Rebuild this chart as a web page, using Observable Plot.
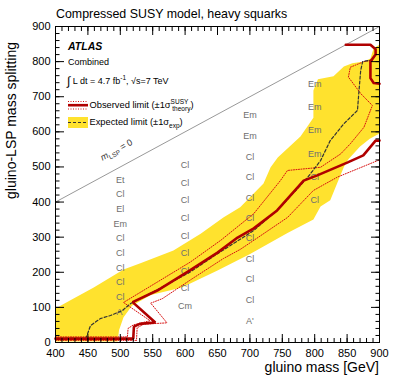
<!DOCTYPE html>
<html><head><meta charset="utf-8">
<script src="https://cdn.jsdelivr.net/npm/d3@7"></script>
<script src="https://cdn.jsdelivr.net/npm/@observablehq/plot@0.6"></script>
<style>
body{margin:0;background:#fff}
</style>
</head><body><div id="chart"></div>
<script>
// ---- axis ticks ----
const xMajor = [400,450,500,550,600,650,700,750,800,850,900];
const yMajor = [0,100,200,300,400,500,600,700,800,900];
const xMinor = d3.range(400, 901, 10);
const yMinor = d3.range(0, 901, 20);

// ---- expected ±1σ band (polygon, [gluino mass, splitting]) ----
const bandPolygon = [
  [400,3],[400,97],[423,120],[459,157],[505,208],[531,226],[582,262],[624,310],[659,356],
  [685,385],[721,453],[732,499],[743,527],[778,587],[798,640],[798,718],[805,750],[829,758],
  [845,786],[858,795],[876,800],[886,809],[891,838],[900,848],
  [900,595],[885,580],[870,558],[852,522],[845,500],[835,455],[824,405],[809,387],[798,350],
  [758,312],[701,253],[650,205],[595,157],[547,135],[518,105],[505,72],[498,35],[496,3]
];

// ---- expected limit (dashed) ----
const expected = [
  [400,12],[447,12],[454,48],[469,68],[485,77],[503,91],[516,111],[557,150],[608,201],
  [650,253],[685,294],[706,319],[747,385],[789,470],[809,518],[824,575],[845,623],
  [866,661],[868,709],[871,775],[874,800],[889,805]
];

// ---- observed limit (thick) ----
const observed = [
  [400,11],[520,11],[521,45],[530,53],[554,57],[519,115],[557,148],[608,206],[650,256],
  [681,299],[706,325],[742,376],[783,461],[804,476],[851,513],[875,533],[894,575],[900,575]
];
const observedIsland = [
  [848,848],[886,848],[894,835],[894,820],[886,800],[886,753],[891,739],[900,737]
];

// ---- observed ±1σ theory (dotted) ----
const obsMinus = [
  [400,16],[511,16],[512,40],[520,50],[546,62],[505,114],[557,172],[608,229],[655,291],
  [706,367],[747,461],[758,490],[809,499],[840,537],[855,566],[876,613],[889,675],
  [871,709],[852,756],[855,784],[876,800],[889,804]
];
const obsPlus = [
  [400,6],[525,6],[526,42],[536,52],[572,56],[547,112],[565,125],[608,178],[659,239],
  [685,265],[706,291],[758,356],[798,433],[835,471],[897,518],[900,520]
];

// ---- kinematic limit m_LSP = 0 ----
const diagonal = [[400,400],[900,900]];

// ---- best signal region labels ----
const sr500Y = [83,125,167,208,250,292,333,375,417,458];
const sr500Text = ["A'","Cl","Cl","Cl","Cl","Cl","Em","El","Cl","Et"];
const sr600Y = [100,150,200,250,300,350,400,450,500];
const sr600Text = ["Cm","Cl","Cl","Cl","Cl","Cl","Cl","Cl","Cl"];
const sr700Y = [58,117,175,233,292,350,408,467,525,583,642];
const sr700Text = ["A'","Cl","Cl","Cl","Cl","Cl","Cl","Cl","Cl","Em","Em"];
const sr800Y = [400,467,533,600,667,733];
const sr800Text = ["Cl","Cl","Em","Em","Em","Em"];

// annotation anchor for the m_LSP = 0 label
const mlspLabelAt = [497, 540];

const srLabels = [];
[[500,sr500Y,sr500Text],[600,sr600Y,sr600Text],[700,sr700Y,sr700Text],[800,sr800Y,sr800Text]]
  .forEach(([m, ys, ts]) => ys.forEach((y, i) => srLabels.push({m, y, t: ts[i]})));

const YELLOW = "#ffe22e";
const RED = "#b00000";
const RED_DOT = "#d81010";

const P = d => d[0], Q = d => d[1];

const svg = Plot.plot({
  width: 399, height: 379,
  marginLeft: 55, marginRight: 20, marginTop: 26, marginBottom: 37,
  style: {fontFamily: "'Liberation Sans', Arial, sans-serif", background: "white", color: "black"},
  x: {domain: [400, 900]},
  y: {domain: [0, 900]},
  marks: [
    Plot.line(bandPolygon, {x: P, y: Q, fill: YELLOW, stroke: "none"}),
    Plot.line(diagonal, {x: P, y: Q, stroke: "#999", strokeWidth: 1}),
    Plot.text(srLabels, {x: "m", y: "y", text: "t", fill: "#6e6e6e", fontSize: 9, dy: -1.5}),
    Plot.line(obsMinus, {x: P, y: Q, stroke: RED_DOT, strokeWidth: 1, strokeDasharray: "1,1.5"}),
    Plot.line(obsPlus, {x: P, y: Q, stroke: RED_DOT, strokeWidth: 1, strokeDasharray: "1,1.5"}),
    Plot.line(expected, {x: P, y: Q, stroke: "#333", strokeWidth: 1.2, strokeDasharray: "3,2"}),
    Plot.line(observed, {x: P, y: Q, stroke: RED, strokeWidth: 2.6, strokeLinejoin: "miter"}),
    Plot.line(observedIsland, {x: P, y: Q, stroke: RED, strokeWidth: 2.6}),
    // ticks (inward)
    Plot.axisX({ticks: xMajor, anchor: "bottom", tickSize: -8, fill: "none", label: null}),
    Plot.axisX({ticks: xMinor, anchor: "bottom", tickSize: -4, fill: "none", label: null}),
    Plot.axisX({ticks: xMajor, anchor: "top", tickSize: -8, fill: "none", label: null}),
    Plot.axisX({ticks: xMinor, anchor: "top", tickSize: -4, fill: "none", label: null}),
    Plot.axisY({ticks: yMajor, anchor: "left", tickSize: -9, fill: "none", label: null}),
    Plot.axisY({ticks: yMinor, anchor: "left", tickSize: -4.5, fill: "none", label: null}),
    Plot.axisY({ticks: yMajor, anchor: "right", tickSize: -9, fill: "none", label: null}),
    Plot.axisY({ticks: yMinor, anchor: "right", tickSize: -4.5, fill: "none", label: null}),
    // tick labels
    Plot.axisX({ticks: xMajor, anchor: "bottom", tickSize: 0, tickPadding: 7, fontSize: 11, label: null}),
    Plot.axisY({ticks: yMajor, anchor: "left", tickSize: 0, tickPadding: 5, fontSize: 11, label: null}),
    Plot.frame({stroke: "black", strokeWidth: 1})
  ]
});

const s = d3.select(svg);
const FONT = "'Liberation Sans', Arial, sans-serif";

// title
s.append("text").attr("x", 56).attr("y", 18).attr("font-size", 12.4).attr("font-family", FONT)
  .attr("text-anchor", "start").attr("fill", "black").text("Compressed SUSY model, heavy squarks");
// axis titles
s.append("text").attr("x", 379).attr("y", 372).attr("font-size", 14).attr("font-family", FONT)
  .attr("text-anchor", "end").attr("fill", "black").text("gluino mass [GeV]");
s.append("text").attr("transform", "translate(15.5,42) rotate(-90)").attr("font-size", 14).attr("font-family", FONT)
  .attr("text-anchor", "end").attr("fill", "black").text("gluino-LSP mass splitting");

// legend block
const lg = s.append("g").attr("font-family", FONT).attr("fill", "black").attr("text-anchor", "start");
lg.append("text").attr("x", 68).attr("y", 50).attr("font-size", 10.5).attr("font-weight", "bold")
  .attr("font-style", "italic").text("ATLAS");
lg.append("text").attr("x", 68).attr("y", 65).attr("font-size", 9).text("Combined");
const lumi = lg.append("text").attr("x", 67).attr("y", 84).attr("font-size", 9);
lumi.append("tspan").attr("font-size", 12).attr("dy", 1).text("∫");
lumi.append("tspan").attr("dy", -1).text(" L dt = 4.7 fb");
lumi.append("tspan").attr("font-size", 6.5).attr("dy", -4).text("-1");
lumi.append("tspan").attr("dy", 4).text(", √s=7 TeV");

lg.append("line").attr("x1", 68).attr("x2", 88).attr("y1", 101.5).attr("y2", 101.5)
  .attr("stroke", RED_DOT).attr("stroke-width", 1).attr("stroke-dasharray", "1,1.5");
lg.append("line").attr("x1", 68).attr("x2", 88).attr("y1", 105.2).attr("y2", 105.2)
  .attr("stroke", RED).attr("stroke-width", 2.6);
lg.append("line").attr("x1", 68).attr("x2", 88).attr("y1", 109).attr("y2", 109)
  .attr("stroke", RED_DOT).attr("stroke-width", 1).attr("stroke-dasharray", "1,1.5");
const ob = lg.append("text").attr("x", 89.5).attr("y", 107.5).attr("font-size", 9.3);
ob.append("tspan").text("Observed limit (±1σ");
ob.append("tspan").attr("font-size", 6.5).attr("dy", -4).text("SUSY");
ob.append("tspan").attr("font-size", 6.5).attr("dx", -16).attr("dy", 7).text("theory");
ob.append("tspan").attr("dy", -3).text(")");

lg.append("rect").attr("x", 68).attr("y", 117).attr("width", 20).attr("height", 11).attr("fill", YELLOW);
lg.append("line").attr("x1", 68).attr("x2", 88).attr("y1", 122.5).attr("y2", 122.5)
  .attr("stroke", "#333").attr("stroke-width", 1.2).attr("stroke-dasharray", "3,2");
const ex = lg.append("text").attr("x", 89.5).attr("y", 125).attr("font-size", 9.3);
ex.append("tspan").text("Expected limit (±1σ");
ex.append("tspan").attr("font-size", 6.5).attr("dy", 2.5).text("exp");
ex.append("tspan").attr("dy", -2.5).text(")");

// m_LSP = 0 rotated label, positioned through the plot scales
const sx = svg.scale("x"), sy = svg.scale("y");
const px = sx.apply(mlspLabelAt[0]), py = sy.apply(mlspLabelAt[1]);
const angle = Math.atan2(sy.apply(900) - sy.apply(400), sx.apply(900) - sx.apply(400)) * 180 / Math.PI;
const ml = lg.append("text").attr("transform", `translate(${px},${py}) rotate(${angle})`)
  .attr("font-size", 9).attr("text-anchor", "middle").attr("fill", "#333");
ml.append("tspan").attr("font-style", "italic").text("m");
ml.append("tspan").attr("font-size", 6.5).attr("dy", 2.5).text("LSP");
ml.append("tspan").attr("dy", -2.5).text(" = 0");

document.getElementById("chart").appendChild(svg);
</script>
</body></html>
